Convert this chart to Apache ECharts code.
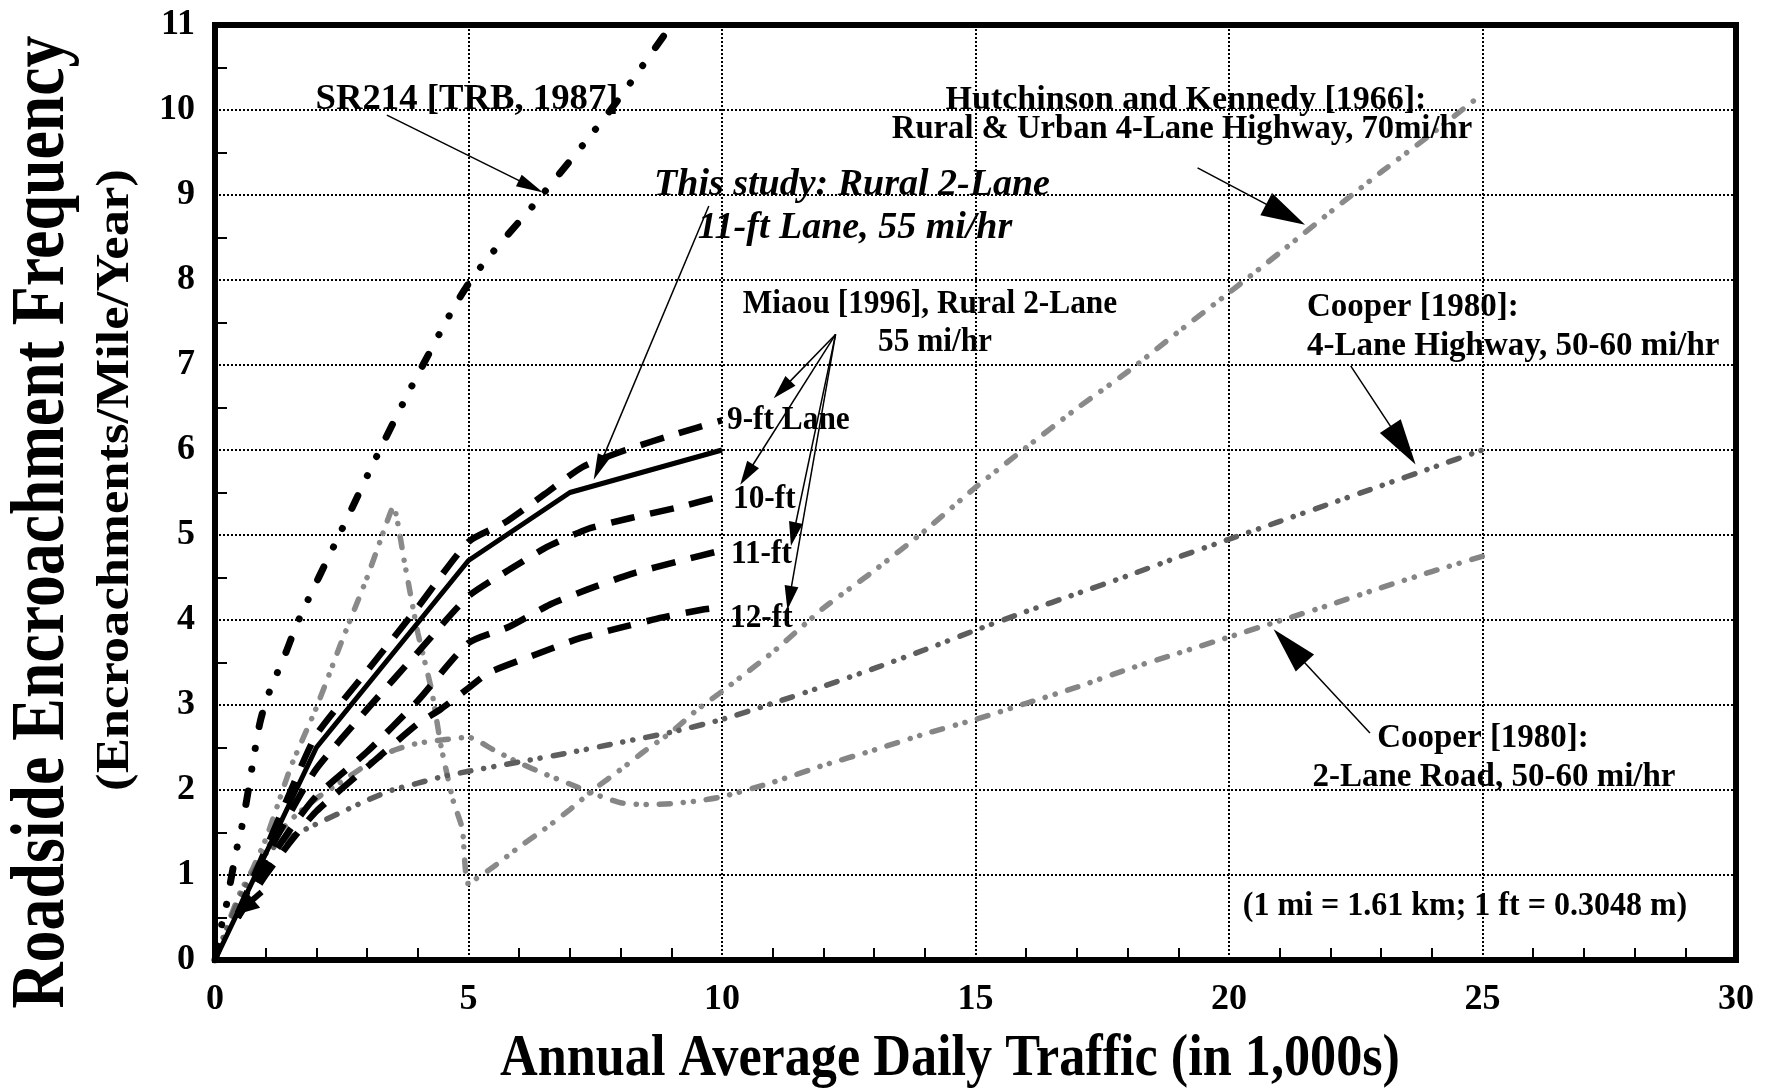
<!DOCTYPE html>
<html>
<head>
<meta charset="utf-8">
<script src="https://cdn.jsdelivr.net/npm/echarts@6/dist/echarts.min.js"></script>
<style>
  html, body { margin: 0; padding: 0; background: #fff; }
  #chart { width: 1772px; height: 1090px; }
</style>
</head>
<body>
<div id="chart"></div>
<script>
// ===== data (x = AADT in 1,000s, y = encroachments/mile/year) =====
var xTicks = [0, 5, 10, 15, 20, 25, 30];
var yTicks = [0, 1, 2, 3, 4, 5, 6, 7, 8, 9, 10, 11];

var sr214 = [[0, 0], [0.07, 0.2], [0.13, 0.41], [0.2, 0.57], [0.3, 0.9], [0.43, 1.31], [0.53, 1.57],
  [0.63, 1.9], [0.76, 2.37], [0.89, 2.8], [1.05, 3.12], [1.38, 3.59], [1.65, 4.0], [2.45, 5.0],
  [3.25, 6.0], [4.1, 7.0], [5.05, 8.0], [6.45, 9.0], [7.8, 10.0], [9.0, 11.0]];

var thisStudy = [[0, 0], [2, 2.5], [5, 4.7], [7, 5.5], [10, 6.0]];

var miaou9 = [[0.45, 0.55], [1, 1.3], [1.5, 2.0], [2, 2.65], [3, 3.4], [4, 4.15], [5, 4.92],
  [5.7, 5.14], [6.5, 5.48], [7.25, 5.8], [8.1, 6.0], [9.1, 6.19], [10, 6.35]];
var miaou10 = [[0.45, 0.5], [1, 1.2], [1.5, 1.75], [2, 2.25], [3, 2.95], [4, 3.62], [5, 4.28],
  [5.8, 4.59], [6.55, 4.86], [7.35, 5.07], [8.2, 5.2], [9.1, 5.32], [10, 5.46]];
var miaou11 = [[0.45, 0.5], [1, 1.1], [1.5, 1.55], [2, 1.93], [3, 2.45], [4, 3.05], [5, 3.73],
  [5.8, 3.92], [6.6, 4.18], [7.35, 4.36], [8.2, 4.54], [9.2, 4.7], [10, 4.82]];
var miaou12 = [[0.45, 0.5], [1, 1.0], [1.5, 1.4], [2, 1.75], [3, 2.27], [4, 2.78], [4.45, 2.95],
  [5, 3.2], [5.4, 3.38], [6.26, 3.58], [7.17, 3.78], [8, 3.91], [8.83, 4.03], [9.6, 4.12], [10, 4.15]];

var hutchinson = [[0, 0], [0.5, 0.75], [1, 1.42], [1.5, 2.28], [2, 2.97], [2.5, 3.75], [3, 4.5],
  [3.3, 5.0], [3.52, 5.34], [3.74, 4.67], [4.0, 3.85], [4.27, 3.18], [4.46, 2.51], [4.69, 1.89],
  [4.88, 1.54], [4.99, 0.9], [5.5, 1.1], [6, 1.33], [6.5, 1.54], [7, 1.77], [7.5, 2.02], [8, 2.24],
  [8.5, 2.47], [9, 2.68], [9.5, 2.94], [10, 3.16], [11, 3.62], [12, 4.14], [13, 4.58], [14, 5.05],
  [15, 5.56], [16, 6.03], [17, 6.49], [18, 6.92], [19, 7.39], [20, 7.85], [21, 8.32], [22, 8.8],
  [23, 9.27], [24, 9.72], [24.85, 10.12]];

var cooper2Lane = [[0, 0], [0.5, 0.8], [1, 1.3], [1.5, 1.65], [2, 1.9], [2.5, 2.1], [3, 2.3],
  [3.5, 2.46], [4, 2.55], [4.5, 2.59], [5, 2.62], [5.5, 2.47], [6, 2.32], [6.5, 2.19], [7, 2.07],
  [7.5, 1.95], [8, 1.85], [8.5, 1.83], [9, 1.84], [9.5, 1.87], [10, 1.92], [11, 2.09], [12, 2.29],
  [13, 2.47], [14, 2.66], [15, 2.83], [16, 3.02], [17, 3.21], [18, 3.42], [19, 3.61], [20, 3.8],
  [21, 3.99], [22, 4.18], [23, 4.38], [24, 4.57], [25, 4.75]];

var cooper4Lane = [[0, 0], [0.5, 0.75], [1, 1.25], [1.5, 1.45], [2, 1.6], [2.5, 1.74], [3, 1.88],
  [3.5, 2.0], [4, 2.08], [4.5, 2.16], [5, 2.22], [6, 2.33], [7, 2.44], [8, 2.56], [9, 2.68],
  [10, 2.83], [11, 3.02], [12, 3.22], [13, 3.43], [14, 3.65], [15, 3.88], [16, 4.1], [17, 4.31],
  [18, 4.52], [19, 4.74], [20, 4.95], [21, 5.16], [22, 5.37], [23, 5.58], [24, 5.79], [25, 6.0]];

// annotation arrows: [from, tip] in data units
var arrowFrom = [[3.39, 9.94], [9.74, 8.87], [12.24, 7.36], [12.24, 7.36], [12.24, 7.36], [12.24, 7.36],
  [19.38, 9.32], [22.4, 6.99], [22.78, 2.67], [0.92, 0.8]];
var arrowTip = [[6.47, 9.03], [7.47, 5.65], [11.02, 6.61], [10.36, 5.59], [11.36, 4.87], [11.29, 4.12],
  [21.5, 8.65], [23.68, 5.83], [20.88, 3.89], [0.39, 0.53]];
// head [width, length], shaft width
var arrowHead = [[13, 27, 1.5], [13, 26, 1.5], [14, 24, 1.5], [14, 24, 1.5], [14, 24, 1.5], [14, 24, 1.5],
  [25, 44, 1.5], [25, 46, 1.5], [25, 46, 1.5], [22, 24, 6]];

var serif = '"Liberation Serif", "Times New Roman", serif';

var chart = echarts.init(document.getElementById('chart'));

var grayDash = [11, 13, 0.1, 10, 0.1, 13];

function lineSeries(name, data, color, width, type, cap, smooth) {
  return {
    name: name, type: 'line', data: data, smooth: smooth,
    symbol: 'none', silent: true, animation: false,
    lineStyle: { color: color, width: width, type: type, cap: cap }
  };
}

chart.setOption({
  animation: false,
  grid: { left: 215, right: 36, top: 25, bottom: 130, show: true, borderColor: '#000', borderWidth: 6 },
  xAxis: {
    type: 'value', min: 0, max: 30, interval: 5,
    axisLine: { show: true, onZero: false, lineStyle: { color: '#000', width: 6 } },
    axisTick: { show: false, inside: true },
    minorTick: { show: true, splitNumber: 5, length: 12, lineStyle: { color: '#000', width: 2 } },
    splitLine: { show: true, lineStyle: { color: '#000', width: 2, type: [2, 2] } },
    axisLabel: {
      margin: 22, color: '#000', fontFamily: serif, fontWeight: 'bold', fontSize: 36,
      formatter: function (v) { return xTicks.indexOf(v) >= 0 ? String(v) : ''; }
    }
  },
  yAxis: {
    type: 'value', min: 0, max: 11, interval: 1,
    axisLine: { show: true, onZero: false, lineStyle: { color: '#000', width: 6 } },
    axisTick: { show: false, inside: true },
    minorTick: { show: true, splitNumber: 2, length: 12, lineStyle: { color: '#000', width: 2 } },
    splitLine: { show: true, lineStyle: { color: '#000', width: 2, type: [2, 2] } },
    axisLabel: {
      margin: 20, color: '#000', fontFamily: serif, fontWeight: 'bold', fontSize: 36,
      formatter: function (v) { return yTicks.indexOf(v) >= 0 ? String(v) : ''; }
    }
  },
  series: [
    lineSeries('Hutchinson and Kennedy [1966]', hutchinson, '#8a8a8a', 5.5, grayDash, 'round', 0.15),
    lineSeries('Cooper [1980] 2-Lane', cooper2Lane, '#858585', 5.5, grayDash, 'round', 0.2),
    lineSeries('Cooper [1980] 4-Lane', cooper4Lane, '#5e5e5e', 5.5, grayDash, 'round', 0.2),
    lineSeries('Miaou 9-ft', miaou9, '#000', 6.5, [24, 16], 'butt', 0.2),
    lineSeries('Miaou 10-ft', miaou10, '#000', 6.5, [24, 16], 'butt', 0.2),
    lineSeries('Miaou 11-ft', miaou11, '#000', 6.5, [24, 16], 'butt', 0.2),
    lineSeries('Miaou 12-ft', miaou12, '#000', 6.5, [24, 16], 'butt', 0.2),
    lineSeries('This study', thisStudy, '#000', 5, 'solid', 'butt', false),
    lineSeries('SR214 [TRB, 1987]', sr214, '#000', 7, [14, 22, 0.1, 21, 0.1, 22], 'round', 0.3)
  ]
});

// ===== annotations =====
function label(text, x, y, size, sx, opts) {
  opts = opts || {};
  return {
    type: 'text', x: x, y: y, scaleX: sx, scaleY: 1, rotation: opts.rot || 0, z: 100,
    style: {
      text: text, fill: '#000',
      font: (opts.italic ? 'italic ' : '') + 'bold ' + size + 'px ' + serif,
      textAlign: opts.align || 'center', textVerticalAlign: 'middle'
    }
  };
}

var graphics = [
  label('SR214 [TRB, 1987]', 467, 100, 36, 1.02),
  label('Hutchinson and Kennedy [1966]:', 1186, 100, 34, 1.0),
  label('Rural & Urban 4-Lane Highway, 70mi/hr', 1182, 129, 34, 0.96),
  label('This study: Rural 2-Lane', 852, 185, 38, 1.0, { italic: true }),
  label('11-ft Lane, 55 mi/hr', 855, 228, 38, 1.0, { italic: true }),
  label('Miaou [1996], Rural 2-Lane', 930, 304, 33, 0.95),
  label('55 mi/hr', 935, 342, 33, 0.95),
  label('9-ft Lane', 727, 420, 33, 0.95, { align: 'left' }),
  label('10-ft', 733, 499, 33, 0.95, { align: 'left' }),
  label('11-ft', 731, 554, 33, 0.95, { align: 'left' }),
  label('12-ft', 730, 618, 33, 0.95, { align: 'left' }),
  label('Cooper [1980]:', 1307, 307, 33, 1.0, { align: 'left' }),
  label('4-Lane Highway, 50-60 mi/hr', 1307, 346, 33, 1.0, { align: 'left' }),
  label('Cooper [1980]:', 1483, 738, 33, 1.0),
  label('2-Lane Road, 50-60 mi/hr', 1494, 777, 33, 1.0),
  label('(1 mi = 1.61 km; 1 ft = 0.3048 m)', 1465, 906, 33, 0.97),
  label('Annual Average Daily Traffic (in 1,000s)', 950, 1059, 60, 0.87),
  label('Roadside Encroachment Frequency', 43, 522, 76, 0.84, { rot: Math.PI / 2 }),
  label('(Encroachments/Mile/Year)', 116, 480, 47, 1.12, { rot: Math.PI / 2 })
];

for (var i = 0; i < arrowFrom.length; i++) {
  var p0 = chart.convertToPixel({ gridIndex: 0 }, arrowFrom[i]);
  var p1 = chart.convertToPixel({ gridIndex: 0 }, arrowTip[i]);
  var dx = p1[0] - p0[0], dy = p1[1] - p0[1];
  var len = Math.sqrt(dx * dx + dy * dy);
  var ux = dx / len, uy = dy / len;
  var hw = arrowHead[i][0] / 2, hl = arrowHead[i][1];
  var bx = p1[0] - ux * hl, by = p1[1] - uy * hl;
  graphics.push({
    type: 'line', z: 90, silent: true,
    shape: { x1: p0[0], y1: p0[1], x2: bx + ux * 2, y2: by + uy * 2 },
    style: { stroke: '#000', lineWidth: arrowHead[i][2] }
  });
  graphics.push({
    type: 'polygon', z: 90, silent: true,
    shape: { points: [[p1[0], p1[1]], [bx - uy * hw, by + ux * hw], [bx + uy * hw, by - ux * hw]] },
    style: { fill: '#000' }
  });
}

chart.setOption({ graphic: graphics });
</script>
</body>
</html>
